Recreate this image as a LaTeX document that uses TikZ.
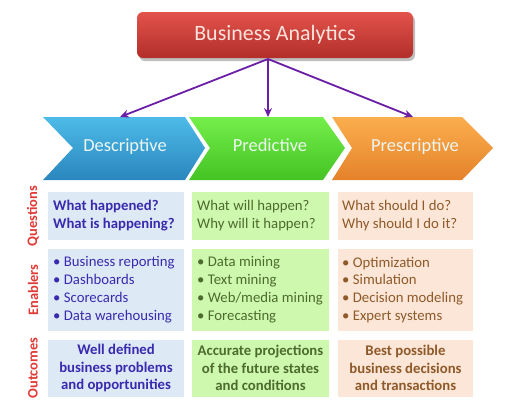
\documentclass[tikz,border=0pt]{standalone}
\usepackage{fontspec}
\setmainfont{Carlito}
\usetikzlibrary{arrows.meta}
\definecolor{baTop}{HTML}{E2534C}
\definecolor{baBot}{HTML}{B32E29}
\definecolor{baTxt}{HTML}{FBE3DD}
\definecolor{arrowPurple}{HTML}{6A1FA6}
\definecolor{blTop}{HTML}{4DBBE8}
\definecolor{blBot}{HTML}{2A86BE}
\definecolor{grTop}{HTML}{74EE4A}
\definecolor{grBot}{HTML}{44C324}
\definecolor{orTop}{HTML}{FBAE4E}
\definecolor{orBot}{HTML}{E4822A}
\definecolor{chevTxt}{HTML}{EEF6F2}
\definecolor{blFill}{HTML}{DDEAF6}
\definecolor{grFill}{HTML}{CDF8AE}
\definecolor{orFill}{HTML}{FCE6D7}
\definecolor{blTxt}{HTML}{3A2AAE}
\definecolor{grTxt}{HTML}{4D6B2E}
\definecolor{orTxt}{HTML}{8E5A2A}
\definecolor{sideRed}{HTML}{E03A36}
\tikzset{
  txt/.style={align=left, font=\fontsize{14.8}{17.5}\selectfont, inner sep=0pt, anchor=west},
  enab/.style={align=left, font=\fontsize{14.8}{18}\selectfont, inner sep=0pt, anchor=west},
  outc/.style={align=center, font=\fontsize{14.8}{17.5}\selectfont\bfseries, inner sep=0pt},
  side/.style={rotate=90, font=\fontsize{14.5}{16}\selectfont\bfseries, text=sideRed, inner sep=0pt},
  chev/.style={font=\fontsize{18.5}{20}\selectfont, text=chevTxt, inner sep=0pt, text height=12.5bp, text depth=3.5bp},
  conn/.style={draw=arrowPurple, line width=1.8pt, -{Stealth[length=9pt,width=8pt]}},
}
\begin{document}
\begin{tikzpicture}[x=1bp,y=-1bp]
\useasboundingbox (0,0) rectangle (509,411);
% top box
\fill[black!25, rounded corners=6bp] (139,15) rectangle (415,61);
\shade[top color=baTop, bottom color=baBot, rounded corners=6bp] (137,12) rectangle (413,58);
\node[font=\fontsize{22}{24}\selectfont, text=baTxt, inner sep=0pt] (ba) at (275,35) {Business Analytics};
\coordinate (src) at (268,59);
% chevrons
\shade[top color=blTop, bottom color=blBot] (43,117) -- (185,117) -- (205,148) -- (185,180) -- (43,180) -- (73,148) -- cycle;
\shade[top color=grTop, bottom color=grBot] (189,117) -- (323,117) -- (345,148) -- (323,180) -- (189,180) -- (210,148) -- cycle;
\shade[top color=orTop, bottom color=orBot] (332,117) -- (462,117) -- (493,148) -- (462,180) -- (332,180) -- (352,148) -- cycle;
\node[chev] (desc) at (125,147) {Descriptive};
\node[chev] (pred) at (270,147) {Predictive};
\node[chev] (presc) at (415,147) {Prescriptive};
\coordinate (descTop) at (120,117);
\coordinate (predTop) at (268,117);
\coordinate (prescTop) at (413,117);
\draw[conn] (src) -- (descTop);
\draw[conn] (src) -- (predTop);
\draw[conn] (src) -- (prescTop);
% row boxes
\fill[blFill] (48,192) rectangle (184,240);
\fill[grFill] (192,192) rectangle (329,240);
\fill[orFill] (338,192) rectangle (473,240);
\fill[blFill] (48,249) rectangle (184,331);
\fill[grFill] (192,249) rectangle (329,331);
\fill[orFill] (338,249) rectangle (473,331);
\fill[blFill] (48,340) rectangle (184,397);
\fill[grFill] (192,340) rectangle (329,397);
\fill[orFill] (338,340) rectangle (473,397);
% side labels
\node[side] (lq) at (33,216) {Questions};
\node[side] (le) at (33,290) {Enablers};
\node[side] (lo) at (33,368) {Outcomes};
% questions
\node[txt, text=blTxt, font=\fontsize{14.8}{17.5}\selectfont\bfseries] (q1) at (53,215.5) {What happened?\\What is happening?};
\node[txt, text=grTxt] (q2) at (197,215.5) {What will happen?\\Why will it happen?};
\node[txt, text=orTxt] (q3) at (342,215.5) {What should I do?\\Why should I do it?};
% enablers
\node[enab, text=blTxt] (e1) at (53,290) {\textbullet\ Business reporting\\\textbullet\ Dashboards\\\textbullet\ Scorecards\\\textbullet\ Data warehousing};
\node[enab, text=grTxt] (e2) at (197,290) {\textbullet\ Data mining\\\textbullet\ Text mining\\\textbullet\ Web/media mining\\\textbullet\ Forecasting};
\node[enab, text=orTxt] (e3) at (342,290) {\textbullet\ Optimization\\\textbullet\ Simulation\\\textbullet\ Decision modeling\\\textbullet\ Expert systems};
% outcomes
\node[outc, text=blTxt] (o1) at (116,368) {Well defined\\business problems\\and opportunities};
\node[outc, text=grTxt] (o2) at (260.5,368) {Accurate projections\\of the future states\\and conditions};
\node[outc, text=orTxt] (o3) at (405.5,368) {Best possible\\business decisions\\and transactions};
\end{tikzpicture}
\end{document}
